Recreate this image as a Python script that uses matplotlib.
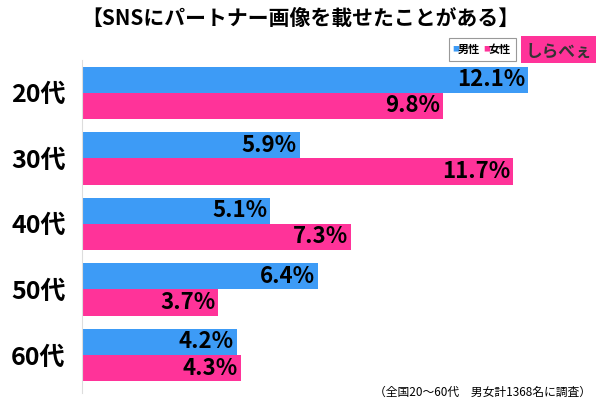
import matplotlib.pyplot as plt
import numpy as np

plt.rcParams['font.family'] = ['Noto Sans CJK JP', 'DejaVu Sans']

ages = ["20代", "30代", "40代", "50代", "60代"]
male = [12.1, 5.9, 5.1, 6.4, 4.2]
female = [9.8, 11.7, 7.3, 3.7, 4.3]

blue = "#3d9bf6"
pink = "#ff3399"

fig = plt.figure(figsize=(6, 4), dpi=100)
ax = fig.add_axes([0.137, 0.0175, 0.846, 0.8325])

y = np.arange(len(ages))
h = 0.4
ax.barh(y - h / 2, male, height=h, color=blue)
ax.barh(y + h / 2, female, height=h, color=pink)

for yi, m, f in zip(y, male, female):
    ax.text(m - 0.08, yi - h / 2, f"{m}%", ha="right", va="center",
            fontsize=16, fontweight="bold")
    ax.text(f - 0.08, yi + h / 2, f"{f}%", ha="right", va="center",
            fontsize=16, fontweight="bold")

ax.set_xlim(0, 13.78)
ax.set_ylim(4.58, -0.5)
ax.set_xticks([])
ax.set_yticks(y)
ax.set_yticklabels(ages, fontsize=18, fontweight="bold")
ax.tick_params(axis="y", length=0, pad=12)
for s in ["top", "right", "bottom"]:
    ax.spines[s].set_visible(False)
ax.spines["left"].set_color("#dddddd")

fig.text(0.5, 0.955, "【SNSにパートナー画像を載せたことがある】",
         ha="center", va="center", fontsize=15, fontweight="bold")

# legend box
fig.patches.append(plt.Rectangle((0.748, 0.847), 0.112, 0.058, transform=fig.transFigure,
                                 fill=False, edgecolor="#999999", linewidth=0.8))
fig.text(0.753, 0.876, "■", color=blue, fontsize=5, va="center")
fig.text(0.763, 0.876, "男性", fontsize=8, fontweight="bold", va="center")
fig.text(0.805, 0.876, "■", color=pink, fontsize=5, va="center")
fig.text(0.815, 0.876, "女性", fontsize=8, fontweight="bold", va="center")

# logo
fig.patches.append(plt.Rectangle((0.868, 0.843), 0.125, 0.067, transform=fig.transFigure,
                                 facecolor=pink, edgecolor="none"))
fig.text(0.932, 0.872, "しらべぇ", ha="center", va="center", fontsize=12,
         fontweight="bold", color="#333333")

fig.text(0.985, 0.02, "（全国20～60代　男女計1368名に調査）", ha="right", va="center",
         fontsize=8.5)

fig.savefig("out.png", dpi=100)
